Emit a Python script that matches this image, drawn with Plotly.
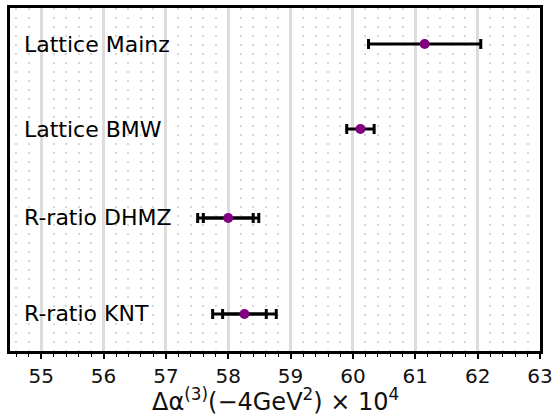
import plotly.graph_objects as go

# data
labels = ["Lattice Mainz", "Lattice BMW", "R-ratio DHMZ", "R-ratio KNT"]
y_pos = [8.95, 6.47, 3.88, 1.08]
centers = [61.15, 60.12, 58.0, 58.26]
err_inner = [0.9, 0.22, 0.40, 0.35]
err_outer = [None, None, 0.49, 0.51]
x_title = "Δα<sup>(3)</sup>(−4GeV<sup>2</sup>) × 10<sup>4</sup>"

fig = go.Figure()

# outer (total) error bars where there are two
outer_x = [c for c, e in zip(centers, err_outer) if e is not None]
outer_y = [y for y, e in zip(y_pos, err_outer) if e is not None]
outer_e = [e for e in err_outer if e is not None]
fig.add_trace(go.Scatter(
    x=outer_x, y=outer_y, mode="markers",
    marker=dict(size=1, color="rgba(0,0,0,0)"),
    error_x=dict(type="data", array=outer_e, color="black", thickness=3, width=5),
    showlegend=False, hoverinfo="skip"))

fig.add_trace(go.Scatter(
    x=centers, y=y_pos, mode="markers",
    marker=dict(size=10, color="#800080"),
    error_x=dict(type="data", array=err_inner, color="black", thickness=3, width=5),
    showlegend=False))

# row labels
for lab, y in zip(labels, y_pos):
    fig.add_annotation(x=54.69, y=y, text=lab, showarrow=False,
                       xanchor="left", yanchor="middle",
                       font=dict(family="DejaVu Sans", size=22, color="black"))

# x axis title as annotation so it can sit low in the margin
fig.add_annotation(x=0.5, y=0, xref="paper", yref="paper", text=x_title,
                   showarrow=False, xanchor="center", yanchor="bottom", yshift=-67,
                   font=dict(family="DejaVu Sans", size=24, color="#111"))

fig.update_xaxes(
    range=[54.5, 63], dtick=1, tick0=55, automargin=False,
    showline=True, linecolor="black", linewidth=2.5, mirror=True,
    ticks="outside", ticklen=5, tickwidth=1.5, tickcolor="black",
    tickfont=dict(family="DejaVu Sans", size=20, color="#111"),
    showgrid=True, gridcolor="#dcdcdc", gridwidth=3,
    zeroline=False,
    minor=dict(dtick=0.2, tick0=55, ticks="outside", ticklen=3, tickwidth=1,
               tickcolor="black", showgrid=True, gridcolor="#d6d6d6",
               gridwidth=2, griddash="2px,7px"))

fig.update_yaxes(
    range=[0, 10], showticklabels=False, ticks="", showgrid=False, zeroline=False,
    automargin=False,
    showline=True, linecolor="black", linewidth=2.5, mirror=True)

fig.update_layout(
    template="none",
    width=554, height=419,
    margin=dict(l=10, r=14, t=8, b=68),
    plot_bgcolor="white", paper_bgcolor="white",
    font=dict(family="DejaVu Sans"))

fig.write_html("out.html", config={"displayModeBar": False},
               post_script="document.body.style.margin='0';")
